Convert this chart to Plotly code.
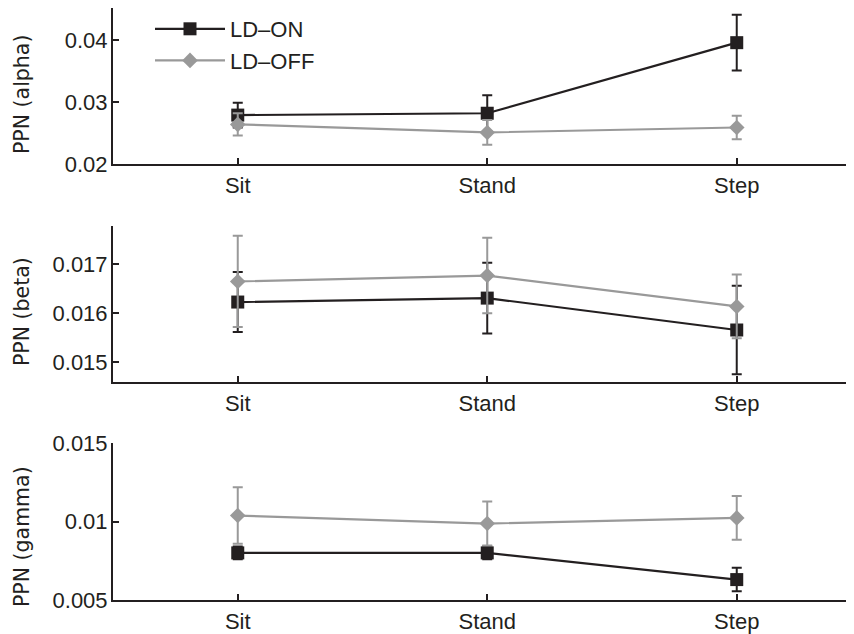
import plotly.graph_objects as go

categories = ["Sit", "Stand", "Step"]

alpha_on = [0.0279, 0.0282, 0.0396]
alpha_on_err = [0.0020, 0.0029, 0.0045]
alpha_off = [0.0264, 0.0251, 0.0259]
alpha_off_err = [0.0018, 0.0020, 0.0019]

beta_on = [0.01623, 0.01631, 0.01566]
beta_on_err = [0.00061, 0.00072, 0.00090]
beta_off = [0.01665, 0.01677, 0.01614]
beta_off_err = [0.00093, 0.00077, 0.00065]

gamma_on = [0.0080, 0.0080, 0.0063]
gamma_on_err = [0.0004, 0.0004, 0.00075]
gamma_off = [0.01038, 0.00987, 0.01023]
gamma_off_err = [0.0018, 0.0014, 0.0014]

alpha_ticks = [0.02, 0.03, 0.04]
alpha_ticktext = ["0.02", "0.03", "0.04"]
beta_ticks = [0.015, 0.016, 0.017]
beta_ticktext = ["0.015", "0.016", "0.017"]
gamma_ticks = [0.005, 0.01, 0.015]
gamma_ticktext = ["0.005", "0.01", "0.015"]

titles = ["PPN (alpha)", "PPN (beta)", "PPN (gamma)"]
names = ["LD\u2013ON", "LD\u2013OFF"]

DARK = "#231f20"
GRAY = "#999999"
OFF = 8                      # page body margin
W, H = 854 - OFF, 634 - OFF  # figure size so that it fits the window
FONT = "Liberation Sans"
L = 113 - OFF

panels = [
    (alpha_on, alpha_on_err, alpha_off, alpha_off_err, alpha_ticks, alpha_ticktext, [0.02, 0.0452], (8, 164), 95),
    (beta_on, beta_on_err, beta_off, beta_off_err, beta_ticks, beta_ticktext, [0.0146, 0.01778], (226, 382), 312),
    (gamma_on, gamma_on_err, gamma_off, gamma_off_err, gamma_ticks, gamma_ticktext, [0.005, 0.015], (443, 600), 537),
]

fig = go.Figure()
for i, (on, on_e, off, off_e, tv, tt, rng, (top, bot), tcy) in enumerate(panels):
    ax = "" if i == 0 else str(i + 1)
    for name, vals, errs, col, sym, size in [
        (names[0], on, on_e, DARK, "square", 13),
        (names[1], off, off_e, GRAY, "diamond", 12),
    ]:
        fig.add_trace(go.Scatter(
            x=categories, y=vals, name=name, legendgroup=name,
            showlegend=(i == 0), mode="lines+markers",
            line=dict(color=col, width=2.2),
            marker=dict(symbol=sym, size=size, color=col),
            error_y=dict(type="data", array=errs, visible=True, color=col, thickness=2, width=5),
            xaxis="x" + ax, yaxis="y" + ax,
        ))
    fig.update_layout(**{
        "xaxis" + ax: dict(
            domain=[0, 1], anchor="y" + ax, type="category", range=[-0.5, 2.47],
            showline=True, linecolor=DARK, linewidth=2, ticks="inside", ticklen=6,
            tickwidth=2, tickcolor=DARK, showgrid=False, zeroline=False, automargin=False,
            tickfont=dict(family=FONT, size=22, color=DARK), ticklabelstandoff=1,
        ),
        "yaxis" + ax: dict(
            domain=[1 - (bot - OFF) / H, 1 - (top - OFF) / H], anchor="x" + ax, range=rng,
            showline=True, linecolor=DARK, linewidth=2, ticks="inside", ticklen=6,
            tickwidth=2, tickcolor=DARK, showgrid=False, zeroline=False, automargin=False,
            tickvals=tv, ticktext=tt,
            tickfont=dict(family=FONT, size=22, color=DARK), ticklabelstandoff=-1,
        ),
    })
    fig.add_annotation(
        text=titles[i], textangle=-90, xref="paper", yref="paper",
        x=(22 - OFF - L) / (W - L), y=1 - (tcy - OFF) / H, xanchor="center", yanchor="middle",
        showarrow=False, font=dict(family="DejaVu Sans", size=20.5, color=DARK),
    )

fig.update_layout(
    template="none",
    width=W, height=H,
    margin=dict(l=L, r=0, t=0, b=0, autoexpand=False),
    paper_bgcolor="white", plot_bgcolor="white",
    showlegend=True,
    legend=dict(
        x=(150 - 113) / (W - L), y=1, xanchor="left", yanchor="top",
        font=dict(family=FONT, size=22, color=DARK),
        bgcolor="rgba(0,0,0,0)", tracegroupgap=0, itemwidth=70,
    ),
)

fig.write_html("out.html")
